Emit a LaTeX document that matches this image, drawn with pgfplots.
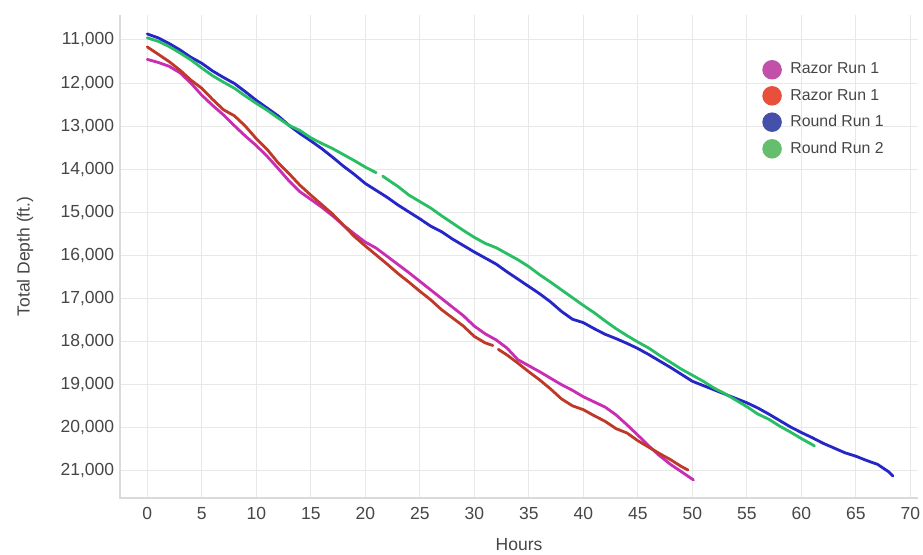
\documentclass[border=0pt]{standalone}
\usepackage{fontspec}
\setmainfont{Liberation Sans}
\usepackage{pgfplots}
\usepackage{pgfplotstable}
\pgfplotsset{compat=1.18}

\definecolor{cmag}{RGB}{200,45,180}
\definecolor{cred}{RGB}{192,57,40}
\definecolor{cblue}{RGB}{38,38,200}
\definecolor{cgreen}{RGB}{40,190,100}
\definecolor{lmag}{RGB}{192,80,168}
\definecolor{lred}{RGB}{232,80,60}
\definecolor{lblue}{RGB}{68,80,170}
\definecolor{lgreen}{RGB}{100,190,110}
\definecolor{gridgray}{RGB}{232,232,232}
\definecolor{axgray}{RGB}{218,218,218}
\definecolor{txtgray}{RGB}{70,70,70}

% hours, depth (ft.)
\pgfplotstableread{
h d
0 11450
1 11520
2 11610
3 11760
4 12000
5 12280
6 12520
7 12740
8 12990
9 13230
10 13450
11 13700
12 13980
13 14270
14 14520
15 14700
16 14880
17 15080
18 15300
19 15500
20 15690
21 15830
22 16020
23 16210
24 16400
25 16600
26 16800
27 17000
28 17200
29 17400
30 17640
31 17820
32 17960
33 18150
34 18420
35 18560
36 18700
37 18850
38 19000
39 19130
40 19280
41 19400
42 19520
43 19700
44 19930
45 20170
46 20420
47 20650
48 20850
49 21020
50.1 21210
}\razorA

\pgfplotstableread{
h d
0 11160
1 11330
2 11500
3 11700
4 11930
5 12120
6 12380
7 12620
8 12760
9 13000
10 13290
11 13540
12 13850
13 14100
14 14370
15 14600
16 14820
17 15040
18 15300
19 15560
20 15780
21 15990
22 16200
23 16420
24 16620
25 16830
26 17030
27 17260
28 17450
29 17640
30 17880
31 18030
31.7 18090
31.9 nan
32.2 18180
33 18310
34 18500
35 18700
36 18890
37 19100
38 19330
39 19490
40 19580
41 19720
42 19850
43 20020
44 20120
45 20300
46 20450
47 20600
48 20740
49 20900
49.6 20980
}\razorB

\pgfplotstableread{
h d
0 10860
1 10950
2 11080
3 11230
4 11400
5 11540
6 11720
7 11870
8 12010
9 12200
10 12400
11 12580
12 12760
13 12980
14 13170
15 13340
16 13520
17 13720
18 13930
19 14120
20 14330
21 14490
22 14650
23 14830
24 14990
25 15150
26 15320
27 15450
28 15620
29 15770
30 15920
31 16060
32 16200
33 16380
34 16550
35 16720
36 16890
37 17080
38 17300
39 17480
40 17560
41 17700
42 17830
43 17930
44 18040
45 18160
46 18300
47 18450
48 18600
49 18760
50 18920
51 19020
52 19120
53 19220
54 19320
55 19420
56 19540
57 19680
58 19830
59 19980
60 20110
61 20230
62 20360
63 20470
64 20580
65 20660
66 20760
67 20850
68 21020
68.4 21120
}\roundA

\pgfplotstableread{
h d
0 10950
1 11030
2 11150
3 11300
4 11460
5 11650
6 11830
7 11980
8 12120
9 12300
10 12470
11 12630
12 12810
13 12980
14 13100
15 13270
16 13400
17 13520
18 13660
19 13800
20 13950
21 14080
21.3 nan
21.6 14160
22 14230
23 14400
24 14600
25 14750
26 14900
27 15080
28 15250
29 15420
30 15580
31 15720
32 15820
33 15960
34 16100
35 16260
36 16450
37 16620
38 16800
39 16980
40 17160
41 17330
42 17520
43 17700
44 17860
45 18010
46 18150
47 18320
48 18480
49 18640
50 18780
51 18920
52 19080
53 19210
54 19360
55 19510
56 19680
57 19800
58 19960
59 20100
60 20250
61.2 20420
}\roundB

\begin{document}
\begin{tikzpicture}
\begin{axis}[
  name=ax,
  scale only axis,
  width=478.8pt, height=289.8pt,
  xmin=-2.5, xmax=70.7,
  ymin=10420, ymax=21630,
  y dir=reverse,
  xtick={0,5,...,70},
  ytick={11000,12000,...,21000},
  grid=major,
  grid style={draw=gridgray, line width=0.6pt},
  axis line style={draw=none},
  major tick length=0pt,
  tick label style={font=\fontsize{10.5}{12}\selectfont, text=txtgray},
  xticklabel style={yshift=-2pt},
  /pgf/number format/assume math mode=true,
  /pgf/number format/1000 sep={,},
  scaled y ticks=false,
  xlabel={Hours},
  ylabel={Total Depth (ft.)},
  label style={font=\fontsize{10.5}{12}\selectfont, text=txtgray},
  xlabel style={at={(axis description cs:0.5,-0.097)}, anchor=center},
  ylabel style={at={(axis description cs:-0.119,0.5)}, anchor=center},
  unbounded coords=jump,
  legend style={at={(axis description cs:0.80,0.915)}, anchor=north west,
    draw=none, fill=none, font=\fontsize{9.5}{11}\selectfont, text=txtgray,
    row sep=3.6pt, column sep=4pt},
  legend cell align=left,
  every axis plot/.append style={line width=1.7pt, line join=round, line cap=round, no marks},
]
\addplot[cmag, forget plot] table[x=h, y=d] {\razorA};
\addplot[cred, forget plot] table[x=h, y=d] {\razorB};
\addplot[cblue, forget plot] table[x=h, y=d] {\roundA};
\addplot[cgreen, forget plot] table[x=h, y=d] {\roundB};
\addlegendimage{only marks, mark=*, mark size=5pt, color=lmag}
\addlegendimage{only marks, mark=*, mark size=5pt, color=lred}
\addlegendimage{only marks, mark=*, mark size=5pt, color=lblue}
\addlegendimage{only marks, mark=*, mark size=5pt, color=lgreen}
\legend{Razor Run 1, Razor Run 1, Round Run 1, Round Run 2}
\end{axis}
\draw[axgray, line width=0.8pt] (ax.north west) -- (ax.south west) -- (ax.south east);
\pgfresetboundingbox
\path ([xshift=-72pt, yshift=-33.6pt]ax.south west) rectangle ([xshift=3pt, yshift=9pt]ax.north east);
\end{tikzpicture}
\end{document}
